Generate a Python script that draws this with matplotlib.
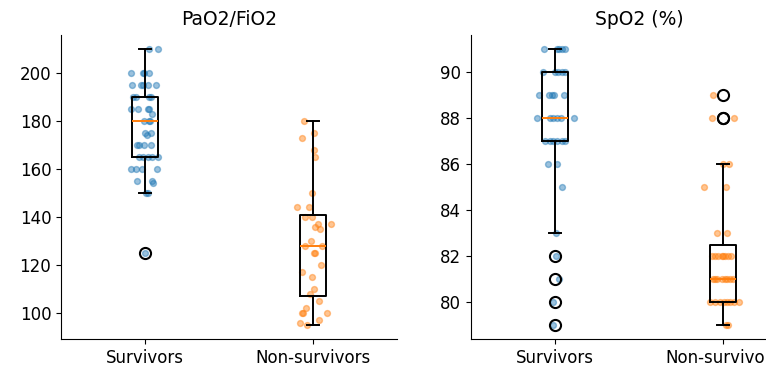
import matplotlib
matplotlib.use("Agg")
import matplotlib.pyplot as plt

GROUPS = ["Survivors", "Non-survivors"]
COLORS = ["#1f77b4", "#ff7f0e"]

# PaO2/FiO2 values and horizontal jitter
pf_surv = [210, 210, 200, 200, 200, 200, 195, 195, 195, 195, 195,
           190, 190, 190, 190, 185, 185, 185, 185, 183, 180, 180, 180,
           175, 175, 174, 170, 170, 170, 170, 165, 165, 165, 165, 165,
           160, 160, 160, 160, 155, 155, 154, 150, 150, 125]
pf_surv_jit = [0.026, 0.079, -0.083, -0.014, -0.004, 0.024, -0.075, -0.024, -0.014, 0.020, 0.065,
               -0.069, -0.056, 0.026, 0.036, -0.083, -0.040, 0.016, 0.026, 0.044, -0.004, 0.024, 0.030,
               0.0, 0.036, 0.010, -0.050, -0.036, -0.004, 0.036, -0.036, -0.014, 0.016, 0.040, 0.079,
               -0.083, -0.054, -0.020, 0.069, -0.046, 0.040, 0.050, 0.006, 0.016, 0.0]
pf_nons = [180, 175, 173, 168, 165, 150, 144, 144, 140, 140, 137, 137,
           136, 135, 130, 128, 128, 125, 125, 120, 117, 115, 110, 108,
           105, 102, 100, 100, 100, 97, 96, 95]
pf_nons_jit = [-0.052, 0.008, -0.067, 0.006, 0.014, -0.006, -0.095, -0.024, -0.048, -0.004, 0.032, 0.107,
               0.014, 0.042, -0.012, -0.048, 0.052, 0.006, 0.012, 0.046, -0.067, -0.006, 0.006, -0.018,
               0.038, -0.044, -0.058, -0.068, 0.082, 0.036, -0.078, -0.038]

# SpO2 (%)
sp_surv = [91, 91, 91, 91, 91, 90, 90, 90, 90, 90, 89, 89, 89, 89, 89,
           88, 88, 88, 88, 88, 88, 87, 87, 87, 87, 87, 87, 86, 86, 85,
           83, 82, 81, 80, 79]
sp_surv_jit = [-0.063, 0.010, 0.026, 0.044, 0.060, -0.069, 0.0, 0.020, 0.040, 0.060,
               -0.093, -0.034, -0.020, -0.004, 0.054,
               -0.105, -0.030, -0.010, 0.014, 0.034, 0.113,
               -0.060, -0.030, -0.010, 0.014, 0.040, 0.060,
               -0.040, 0.014, 0.040, 0.006, 0.004, 0.026, -0.010, -0.010]
sp_nons = [89, 88, 88, 86, 86, 85, 85, 83, 83,
           82, 82, 82, 82, 82, 82, 82, 82,
           81, 81, 81, 81, 81, 81, 81, 81,
           80, 80, 80, 80, 80, 80, 80, 80, 79, 79]
sp_nons_jit = [-0.062, -0.067, 0.067, 0.002, 0.038, -0.113, 0.018, -0.038, 0.026,
               -0.067, -0.048, -0.028, -0.008, 0.002, 0.012, 0.032, 0.046,
               -0.062, -0.048, -0.034, -0.008, 0.012, 0.026, 0.042, 0.062,
               -0.077, -0.048, -0.018, 0.006, 0.026, 0.042, 0.065, 0.095, 0.018, 0.032]

PANELS = [
    ("PaO2/FiO2", [pf_surv, pf_nons], [pf_surv_jit, pf_nons_jit]),
    ("SpO2 (%)", [sp_surv, sp_nons], [sp_surv_jit, sp_nons_jit]),
]


def draw_panel(ax, title, data, jitter):
    for i, (vals, jit) in enumerate(zip(data, jitter)):
        xs = [i + 1 + j for j in jit]
        ax.scatter(xs, vals, s=18, color=COLORS[i], alpha=0.45, linewidths=1)
    ax.boxplot(data, tick_labels=GROUPS,
               boxprops=dict(linewidth=1.4),
               whiskerprops=dict(linewidth=1.4),
               capprops=dict(linewidth=1.4),
               medianprops=dict(linewidth=1.4, color=COLORS[1]),
               flierprops=dict(markersize=8, markeredgewidth=1.5))
    ax.set_title(title, fontsize=13.5, pad=7)
    ax.spines["top"].set_visible(False)
    ax.spines["right"].set_visible(False)
    ax.tick_params(labelsize=12)


fig = plt.figure(figsize=(7.66, 3.70), dpi=100)
ax1 = fig.add_axes([61 / 766, 31 / 370, 336 / 766, 304 / 370])
ax2 = fig.add_axes([471 / 766, 31 / 370, 336 / 766, 304 / 370])

for ax, (title, data, jit) in zip([ax1, ax2], PANELS):
    draw_panel(ax, title, data, jit)

fig.savefig("out.png", dpi=100)
